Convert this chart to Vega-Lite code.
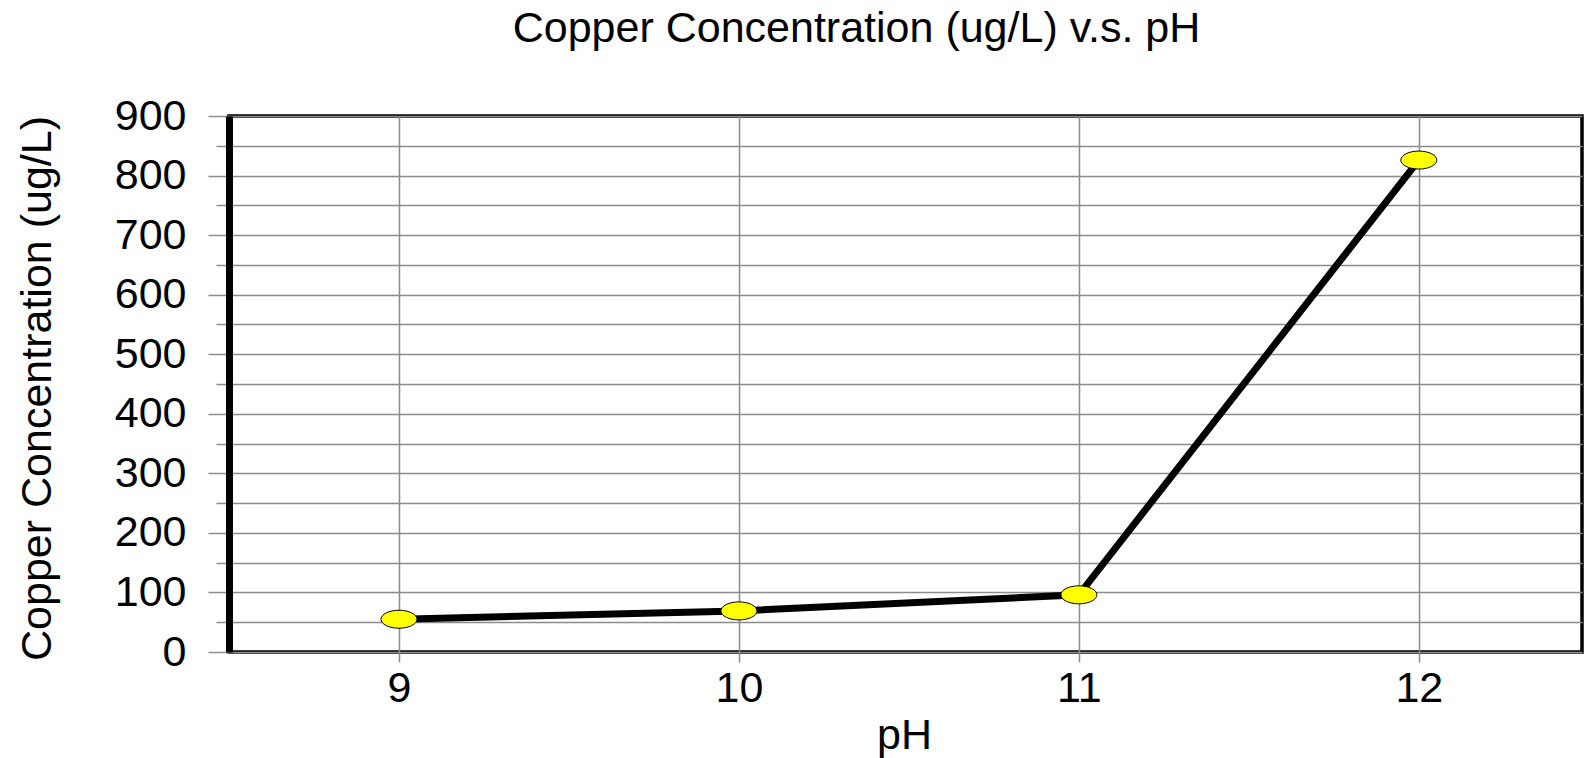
{
  "$schema": "https://vega.github.io/schema/vega-lite/v6.json",
  "width": 1353,
  "height": 536,
  "autosize": {"type": "none"},
  "padding": {"left": 229, "top": 116, "right": 3, "bottom": 106},
  "background": "white",
  "config": {
    "font": "Liberation Sans",
    "view": {"stroke": "black", "strokeWidth": 3.5}
  },
  "title": {
    "text": "Copper Concentration (ug/L) v.s. pH",
    "fontSize": 43,
    "fontWeight": "normal",
    "color": "black",
    "anchor": "middle",
    "frame": "group",
    "dx": -49,
    "baseline": "alphabetic",
    "offset": 10
  },
  "data": {
    "values": [
      {"pH": 9, "copper": 55},
      {"pH": 10, "copper": 69},
      {"pH": 11, "copper": 96},
      {"pH": 12, "copper": 826}
    ]
  },
  "encoding": {
    "x": {
      "field": "pH",
      "type": "quantitative",
      "scale": {"domain": [8.5, 12.48], "nice": false, "zero": false},
      "axis": {
        "values": [9, 10, 11, 12],
        "format": "d",
        "title": "pH",
        "titleFontSize": 43,
        "titleFontWeight": "normal",
        "titleColor": "black",
        "titleAlign": "center",
        "titleBaseline": "alphabetic",
        "titleX": 675,
        "titleY": 96,
        "labelFontSize": 43,
        "labelColor": "black",
        "labelBaseline": "alphabetic",
        "labelPadding": 39,
        "tickSize": 10,
        "tickColor": "#8c8c8c",
        "tickWidth": 1.5,
        "grid": true,
        "gridColor": "#8c8c8c",
        "gridWidth": 1.5,
        "gridOpacity": 1,
        "domain": false
      }
    },
    "y": {
      "field": "copper",
      "type": "quantitative",
      "scale": {"domain": [0, 900], "nice": false},
      "axis": {
        "values": [0, 50, 100, 150, 200, 250, 300, 350, 400, 450, 500, 550, 600, 650, 700, 750, 800, 850, 900],
        "labelExpr": "datum.value % 100 === 0 ? datum.label : ''",
        "title": "Copper Concentration (ug/L)",
        "titleFontSize": 43,
        "titleFontWeight": "normal",
        "titleColor": "black",
        "titleAngle": -90,
        "titleAlign": "center",
        "titleBaseline": "alphabetic",
        "titleX": -179,
        "titleY": 272,
        "labelFontSize": 43,
        "labelColor": "black",
        "labelBaseline": "middle",
        "labelPadding": 22,
        "tickSize": {"condition": {"test": "datum.value % 100 === 0", "value": 21}, "value": 13},
        "tickColor": "#8c8c8c",
        "tickWidth": 1.5,
        "grid": true,
        "gridColor": "#8c8c8c",
        "gridWidth": 1.5,
        "gridOpacity": 1,
        "domain": true,
        "domainColor": "black",
        "domainWidth": 7
      }
    }
  },
  "layer": [
    {
      "mark": {"type": "line", "color": "black", "strokeWidth": 7}
    },
    {
      "mark": {
        "type": "point",
        "shape": "M-1,0A1,0.5,0,1,1,1,0A1,0.5,0,1,1,-1,0Z",
        "size": 1296,
        "filled": true,
        "fill": "#ffff00",
        "stroke": "black",
        "strokeWidth": 1,
        "opacity": 1
      }
    }
  ]
}
